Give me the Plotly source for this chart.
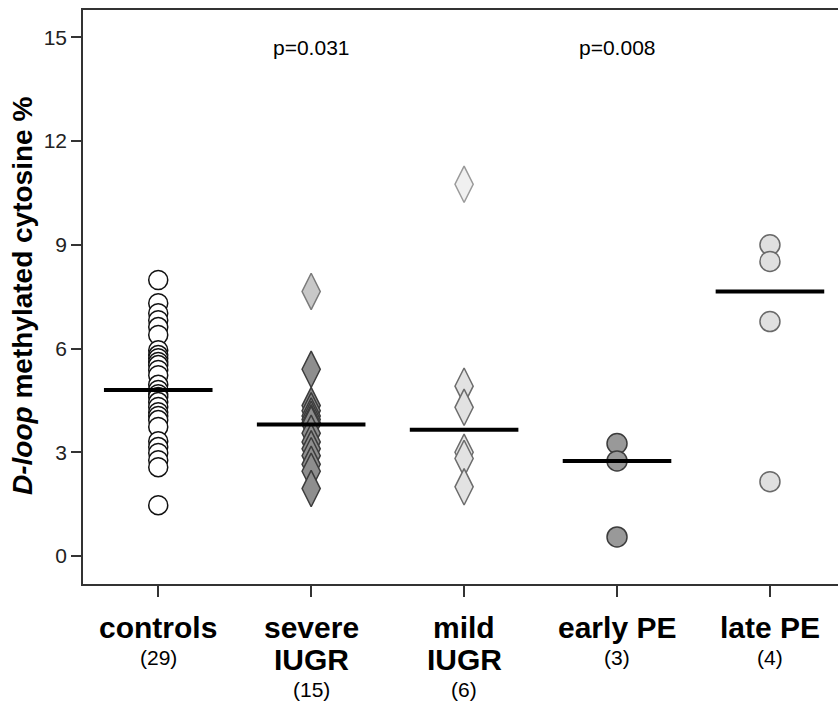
import numpy as np
import plotly.graph_objects as go

# Group labels (one entry per line of the axis label)
group_lines = [["controls"], ["severe", "IUGR"], ["mild", "IUGR"], ["early PE"], ["late PE"]]

# D-loop methylated cytosine (%) per sample
controls = [7.98, 7.31, 7.02, 6.82, 6.62, 6.39, 5.95, 5.81, 5.72, 5.61, 5.52, 5.38, 5.23, 4.95,
            4.80,
            4.68, 4.60, 4.45, 4.31, 4.16, 4.05, 3.93, 3.73, 3.32, 3.15, 2.98, 2.77, 2.57, 1.47]
severe_iugr = [7.65, 5.40, 4.35, 4.20, 4.05, 3.95, 3.85, 3.80, 3.55, 3.30, 3.10, 2.90, 2.65, 2.45, 1.95]
mild_iugr = [10.75, 4.91, 4.30, 3.00, 2.82, 2.00]
early_pe = [3.25, 2.75, 0.55]
late_pe = [9.00, 8.52, 6.78, 2.15]

groups = [controls, severe_iugr, mild_iugr, early_pe, late_pe]

# p-values shown above two of the groups (group index, text)
p_labels = [(1, "p=0.031"), (3, "p=0.008")]

FONT = "Liberation Sans, Arial, Helvetica, sans-serif"

# marker style per group: symbol, size, fill colours, edge colours
styles = [
    ("circle", 19, ["white"] * len(controls), ["#111111"] * len(controls)),
    ("diamond-tall", 26, ["#c8c8c8"] + ["#8e8e8e"] * (len(severe_iugr) - 1),
     ["#7a7a7a"] + ["#3c3c3c"] * (len(severe_iugr) - 1)),
    ("diamond-tall", 26, ["#f0f0f0"] + ["#e2e2e2"] * (len(mild_iugr) - 1),
     ["#9a9a9a"] + ["#6c6c6c"] * (len(mild_iugr) - 1)),
    ("circle", 20, ["#999999"] * len(early_pe), ["#3c3c3c"] * len(early_pe)),
    ("circle", 20, ["#e0e0e0"] * len(late_pe), ["#6a6a6a"] * len(late_pe)),
]

fig = go.Figure()

for i, (vals, (sym, size, fills, edges)) in enumerate(zip(groups, styles)):
    fig.add_trace(go.Scatter(
        x=[i] * len(vals), y=vals, mode="markers",
        marker=dict(symbol=sym, size=size, color=fills,
                    line=dict(color=edges, width=1.5)),
        showlegend=False, hoverinfo="skip"))

# median bars
half = 0.355
for i, vals in enumerate(groups):
    m = float(np.median(vals))
    fig.add_trace(go.Scatter(
        x=[i - half, i + half], y=[m, m], mode="lines",
        line=dict(color="black", width=4),
        showlegend=False, hoverinfo="skip"))

# layout geometry in pixels
W, H = 838, 701
L, T, B = 83, 10, 117
plot_h = H - T - B


def py_to_paper(py):
    return (H - B - py) / plot_h


annotations = []
for i, (lines, vals) in enumerate(zip(group_lines, groups)):
    bold_rows = [627, 659]
    for j, txt in enumerate(lines):
        annotations.append(dict(
            x=i, xref="x", y=py_to_paper(bold_rows[j]), yref="paper",
            text=f"<b>{txt}</b>", showarrow=False, xanchor="center", yanchor="middle",
            font=dict(family=FONT, size=30, color="black")))
    count_y = 657 if len(lines) == 1 else 689
    annotations.append(dict(
        x=i, xref="x", y=py_to_paper(count_y), yref="paper",
        text=f"({len(vals)})", showarrow=False, xanchor="center", yanchor="middle",
        font=dict(family=FONT, size=21, color="black")))

for gi, txt in p_labels:
    annotations.append(dict(
        x=gi, xref="x", y=14.7, yref="y", text=txt, showarrow=False,
        xanchor="center", yanchor="middle",
        font=dict(family=FONT, size=21, color="black")))

annotations.append(dict(
    x=(22 - L) / (W - L), xref="paper", y=py_to_paper(296), yref="paper",
    text="<b><i>D-loop</i> methylated cytosine %</b>", textangle=-90,
    showarrow=False, xanchor="center", yanchor="middle",
    font=dict(family=FONT, size=28, color="black")))

fig.update_layout(
    width=W, height=H,
    margin=dict(l=L, r=0, t=T, b=B, pad=0),
    paper_bgcolor="white", plot_bgcolor="white",
    font=dict(family=FONT, color="black"),
    annotations=annotations,
    xaxis=dict(range=[-0.492, 4.445], tickvals=list(range(5)), showticklabels=False,
               ticks="outside", ticklen=11, tickwidth=1.5, tickcolor="#333333",
               showline=True, linecolor="#333333", linewidth=1.5, mirror=True,
               showgrid=False, zeroline=False, fixedrange=True),
    yaxis=dict(range=[-0.81, 15.79], tickvals=[0, 3, 6, 9, 12, 15],
               ticks="outside", ticklen=10, tickwidth=1.5, tickcolor="#333333",
               tickfont=dict(family=FONT, size=21, color="#222222"),
               showline=True, linecolor="#333333", linewidth=1.5,
               showgrid=False, zeroline=False, fixedrange=True),
)

fig.write_html("out.html")
